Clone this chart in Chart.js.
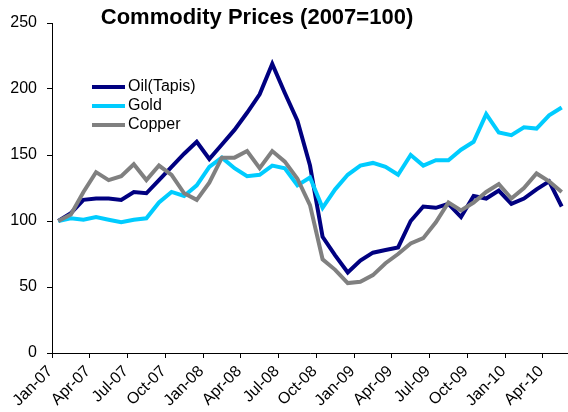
<!DOCTYPE html>
<html>
<head>
<meta charset="utf-8">
<script src="https://cdn.jsdelivr.net/npm/chart.js@4/dist/chart.umd.min.js"></script>
<style>
  html, body { margin: 0; padding: 0; background: #fff; }
  #wrap { width: 568px; height: 412px; }
</style>
</head>
<body>
<div id="wrap"><canvas id="chart" width="568" height="412"></canvas></div>
<script>
// Data (monthly index, 2007 = 100)
const months = [
    'Jan-07','Feb-07','Mar-07','Apr-07','May-07','Jun-07','Jul-07','Aug-07','Sep-07','Oct-07','Nov-07','Dec-07',
    'Jan-08','Feb-08','Mar-08','Apr-08','May-08','Jun-08','Jul-08','Aug-08','Sep-08','Oct-08','Nov-08','Dec-08',
    'Jan-09','Feb-09','Mar-09','Apr-09','May-09','Jun-09','Jul-09','Aug-09','Sep-09','Oct-09','Nov-09','Dec-09',
    'Jan-10','Feb-10','Mar-10','Apr-10','May-10'
];
const oil = [100,106,116,117,117,116,122,121,131,141,151,160,147,158,169,182,196,219,197,176,142,88,74,61,70,76,78,80,100,111,110,113,103,119,117,123,113,117,124,130,111];
const gold = [100,102,101,103,101,99,101,102,114,122,119,127,141,148,140,134,135,142,140,127,133,110,124,135,142,144,141,135,150,142,146,146,154,160,181,167,165,171,170,180,186];
const copper = [100,105,122,137,131,134,143,131,142,135,121,116,129,148,148,153,140,153,145,132,112,71,63,53,54,59,68,75,83,87,99,114,108,114,122,128,117,125,136,130,122];
const yTicks = [0, 50, 100, 150, 200, 250];
const titleText = 'Commodity Prices (2007=100)';

const FONT = '"Liberation Sans", Arial, sans-serif';

// Title + legend drawn over the chart
const overlay = {
    id: 'overlay',
    afterDraw(chart) {
        const ctx = chart.ctx;
        ctx.save();
        ctx.fillStyle = '#000';
        ctx.font = 'bold 22px ' + FONT;
        ctx.textAlign = 'center';
        ctx.textBaseline = 'alphabetic';
        ctx.fillText(titleText, 257, 24);

        ctx.font = '16px ' + FONT;
        ctx.textAlign = 'left';
        ctx.textBaseline = 'middle';
        chart.data.datasets.forEach((ds, i) => {
            const y = 87 + i * 19;
            ctx.strokeStyle = ds.borderColor;
            ctx.lineWidth = 4;
            ctx.beginPath();
            ctx.moveTo(92, y);
            ctx.lineTo(125, y);
            ctx.stroke();
            ctx.fillText(ds.label, 128, y);
        });
        ctx.restore();
    }
};

const line = (label, data, color, order) => ({
    label, data,
    borderColor: color,
    backgroundColor: color,
    borderWidth: 4,
    pointRadius: 0,
    tension: 0,
    fill: false,
    order
});

new Chart(document.getElementById('chart'), {
    type: 'line',
    data: {
        labels: months,
        datasets: [
            line('Oil(Tapis)', oil, '#000080', 3),
            line('Gold', gold, '#00CCFF', 2),
            line('Copper', copper, '#808080', 1)
        ]
    },
    options: {
        responsive: false,
        animation: false,
        layout: { padding: { top: 23, left: 0, right: 0, bottom: 0 } },
        plugins: {
            legend: { display: false },
            title: { display: false },
            tooltip: { enabled: false }
        },
        scales: {
            x: {
                type: 'category',
                offset: true,
                afterFit: s => { s.height = 59; s.paddingLeft = 0; s.paddingRight = 0; },
                border: { display: true, color: '#000', width: 1 },
                grid: {
                    offset: true,
                    drawOnChartArea: false,
                    tickLength: 5,
                    color: c => (c.index % 3 === 0 ? '#000' : 'rgba(0,0,0,0)')
                },
                ticks: {
                    autoSkip: false,
                    minRotation: 45,
                    maxRotation: 45,
                    labelOffset: -8,
                    padding: 4,
                    color: '#000',
                    font: { family: FONT, size: 16 },
                    callback: (v, i) => (i % 3 === 0 ? months[i] : '')
                }
            },
            y: {
                min: 0,
                max: 250,
                afterFit: s => { s.width = 52; },
                afterBuildTicks: s => { s.ticks = yTicks.map(v => ({ value: v })); },
                border: { display: true, color: '#000', width: 1 },
                grid: { drawOnChartArea: false, tickLength: 5, color: '#000' },
                ticks: {
                    padding: 10,
                    color: '#000',
                    font: { family: FONT, size: 16 }
                }
            }
        }
    },
    plugins: [overlay]
});
</script>
</body>
</html>
